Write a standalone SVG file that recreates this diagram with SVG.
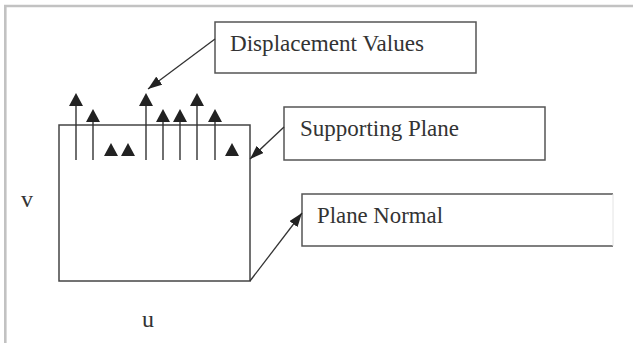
<svg xmlns="http://www.w3.org/2000/svg" xmlns:xlink="http://www.w3.org/1999/xlink" width="633" height="343" viewBox="0 0 633 343">
<style>
.frame{fill:none;stroke:#c2c2c2;stroke-width:2.6}
.box{fill:#fff;stroke:#555;stroke-width:1.5}
.plane{fill:none;stroke:#444;stroke-width:1.5}
.conn{fill:none;stroke:#333;stroke-width:1.3}
.stem{stroke:#333;stroke-width:1.4}
.head{fill:#222}
.lbl{font-family:"Liberation Serif","Times New Roman",serif;font-size:24px;fill:#333}
</style>
<defs>
<path id="tri" d="M0,0 L-7,13 L7,13 Z" class="head"/>
<marker id="ah" viewBox="0 0 14 10" refX="14" refY="5" markerWidth="14" markerHeight="10" markerUnits="userSpaceOnUse" orient="auto">
<path d="M0,0 L14,5 L0,10 Z" fill="#222"/>
</marker>
</defs>
<rect width="633" height="343" fill="#fff"/>
<path class="frame" d="M5.3,343 V6 H633"/>
<g id="supporting-plane-rect">
<rect class="plane" x="59" y="125" width="191" height="156"/>
</g>
<g id="displacement-arrows">
<line class="stem" x1="76" y1="160" x2="76" y2="100"/><use xlink:href="#tri" x="76" y="93"/>
<line class="stem" x1="93" y1="160" x2="93" y2="116"/><use xlink:href="#tri" x="93" y="109"/>
<use xlink:href="#tri" x="111" y="143"/>
<use xlink:href="#tri" x="128" y="143"/>
<line class="stem" x1="146" y1="160" x2="146" y2="100"/><use xlink:href="#tri" x="146" y="93"/>
<line class="stem" x1="163" y1="160" x2="163" y2="116"/><use xlink:href="#tri" x="163" y="109"/>
<line class="stem" x1="180" y1="160" x2="180" y2="116"/><use xlink:href="#tri" x="180" y="109"/>
<line class="stem" x1="197" y1="160" x2="197" y2="100"/><use xlink:href="#tri" x="197" y="93"/>
<line class="stem" x1="215" y1="160" x2="215" y2="116"/><use xlink:href="#tri" x="215" y="109"/>
<use xlink:href="#tri" x="232" y="143"/>
</g>
<g id="displacement-values">
<rect class="box" x="215" y="22" width="261" height="51"/>
<text class="lbl" x="230" y="51" textLength="194" lengthAdjust="spacingAndGlyphs">Displacement Values</text>
</g>
<g id="supporting-plane">
<rect class="box" x="284" y="107" width="261" height="53"/>
<text class="lbl" x="300" y="136" textLength="159" lengthAdjust="spacingAndGlyphs">Supporting Plane</text>
</g>
<g id="plane-normal">
<rect x="302" y="194" width="311" height="52" fill="#fff"/>
<path d="M613,194 H302 V246 H613" fill="none" stroke="#555" stroke-width="1.5"/>
<line x1="613" y1="194" x2="613" y2="246" stroke="#e4e4e4" stroke-width="1"/>
<text class="lbl" x="317" y="223" textLength="126" lengthAdjust="spacingAndGlyphs">Plane Normal</text>
</g>
<g id="connectors">
<line class="conn" x1="215" y1="39" x2="148" y2="89" marker-end="url(#ah)"/>
<line class="conn" x1="284" y1="127" x2="250" y2="159" marker-end="url(#ah)"/>
<line class="conn" x1="250" y1="281" x2="302" y2="213" marker-end="url(#ah)"/>
</g>
<g id="axis-labels">
<text class="lbl" x="21" y="207">v</text>
<text class="lbl" x="142" y="327">u</text>
</g>
</svg>
